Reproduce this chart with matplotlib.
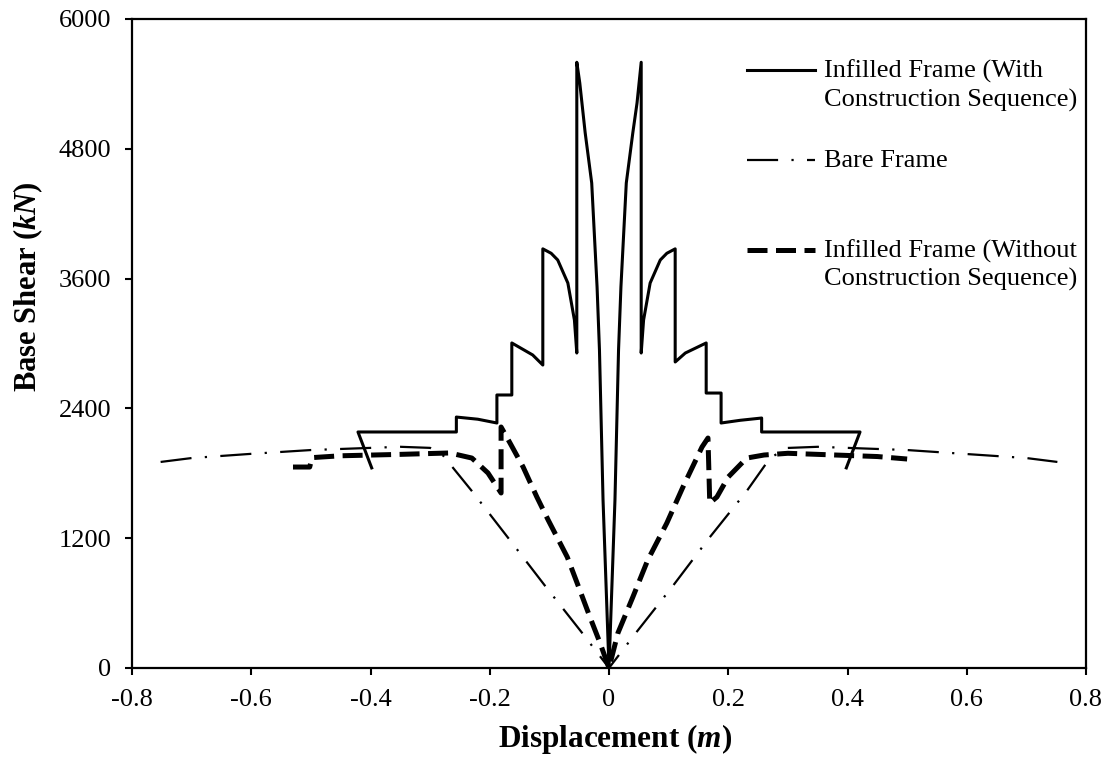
import matplotlib
matplotlib.use("Agg")
from matplotlib import pyplot as plt

plt.rcParams['font.family'] = ['Liberation Serif', 'DejaVu Serif']
plt.rcParams['mathtext.fontset'] = 'custom'
plt.rcParams['mathtext.it'] = 'Liberation Serif:bold:italic'
plt.rcParams['mathtext.rm'] = 'Liberation Serif:bold'

# Infilled frame, with construction sequence (solid)
with_cs_x = [-0.398, -0.421, -0.256, -0.256, -0.22, -0.188, -0.188, -0.163, -0.163, -0.128, -0.111,
             -0.111, -0.097, -0.086, -0.069, -0.058, -0.054, -0.054, -0.049, -0.040, -0.029, -0.020,
             -0.016, -0.010, 0.0,
             0.010, 0.016, 0.020, 0.029, 0.040, 0.047, 0.054, 0.054, 0.058, 0.069, 0.086, 0.097,
             0.111, 0.111, 0.128, 0.163, 0.163, 0.188, 0.188, 0.22, 0.256, 0.256, 0.421, 0.398]
with_cs_y = [1850, 2182, 2182, 2320, 2300, 2265, 2524, 2524, 3005, 2894, 2801,
             3875, 3834, 3772, 3559, 3217, 2912, 5600, 5408, 4950, 4484, 3522,
             2940, 1553, 0,
             1553, 2940, 3522, 4484, 4950, 5223, 5600, 2912, 3217, 3559, 3772, 3834,
             3875, 2829, 2912, 3005, 2542, 2542, 2265, 2290, 2311, 2182, 2182, 1850]

# Bare frame (dash-dot)
bare_x = [-0.752, -0.70, -0.60, -0.50, -0.40, -0.35, -0.30, -0.279, -0.230, -0.169, -0.107, -0.045, 0.0,
          0.045, 0.107, 0.168, 0.231, 0.27, 0.298, 0.35, 0.40, 0.50, 0.60, 0.70, 0.752]
bare_y = [1905, 1941, 1980, 2015, 2035, 2045, 2035, 1969, 1636, 1202, 758, 324, 0,
          324, 758, 1202, 1636, 1940, 2034, 2045, 2035, 2015, 1978, 1941, 1905]

# Infilled frame, without construction sequence (thick dashed)
without_cs_x = [-0.530, -0.502, -0.498, -0.45, -0.35, -0.267, -0.230, -0.203, -0.181, -0.181, -0.166,
                -0.144, -0.121, -0.102, -0.070, -0.049, -0.032, -0.015, 0.0,
                0.015, 0.040, 0.065, 0.097, 0.124, 0.156, 0.166, 0.169, 0.181, 0.200, 0.231,
                0.260, 0.30, 0.35, 0.40, 0.45, 0.50]
without_cs_y = [1858, 1858, 1945, 1962, 1975, 1988, 1941, 1803, 1618, 2228, 2080,
                1858, 1581, 1368, 1026, 721, 471, 231, 0,
                324, 656, 998, 1340, 1673, 2043, 2126, 1525, 1581, 1766, 1941,
                1969, 1985, 1975, 1965, 1955, 1932]

labels = ['Infilled Frame (With\nConstruction Sequence)', 'Bare Frame',
          'Infilled Frame (Without\nConstruction Sequence)']
x_ticks = [-0.8, -0.6, -0.4, -0.2, 0, 0.2, 0.4, 0.6, 0.8]
x_tick_labels = ['-0.8', '-0.6', '-0.4', '-0.2', '0', '0.2', '0.4', '0.6', '0.8']
y_ticks = [0, 1200, 2400, 3600, 4800, 6000]

fig = plt.figure(figsize=(11.08, 7.60), dpi=100)
ax = fig.add_axes([132 / 1108, 1 - 668 / 760, 954 / 1108, 649 / 760])

styles = [dict(color='black', lw=2.2, ls='-'),
          dict(color='black', lw=1.6, ls=(0, (14, 6, 1, 6))),
          dict(color='black', lw=3.6, ls=(0, (4, 1.7)))]

ax.plot(with_cs_x, with_cs_y, **styles[0])
ax.plot(bare_x, bare_y, **styles[1])
ax.plot(without_cs_x, without_cs_y, **styles[2])

ax.set_xlim(-0.8, 0.8)
ax.set_ylim(0, 6000)
ax.set_xticks(x_ticks)
ax.set_xticklabels(x_tick_labels)
ax.set_yticks(y_ticks)
ax.tick_params(direction='out', length=5, width=1.5, labelsize=19, pad=10)
for s in ax.spines.values():
    s.set_linewidth(1.6)
    s.set_color('black')

ax.set_xlabel(r'Displacement ($m$)', fontsize=22.5, fontweight='bold')
ax.xaxis.set_label_coords((615 - 132) / 954, -0.083)
fig.text(28 / 1108, 1 - 287 / 760, r'Base Shear ($kN$)', rotation=90, fontsize=22,
         fontweight='bold', ha='center', va='center')

# legend, drawn by hand so the sample sits on the first text line
leg_y = [0.921, 0.782, 0.644]
for st, lab, yy in zip(styles, labels, leg_y):
    ax.plot([0.645, 0.716], [yy, yy], transform=ax.transAxes, clip_on=False, **st)
    ax.text(0.7254, yy + 0.016, lab, transform=ax.transAxes, fontsize=19,
            ha='left', va='top', linespacing=1.3)

fig.savefig('out.png', dpi=100)
